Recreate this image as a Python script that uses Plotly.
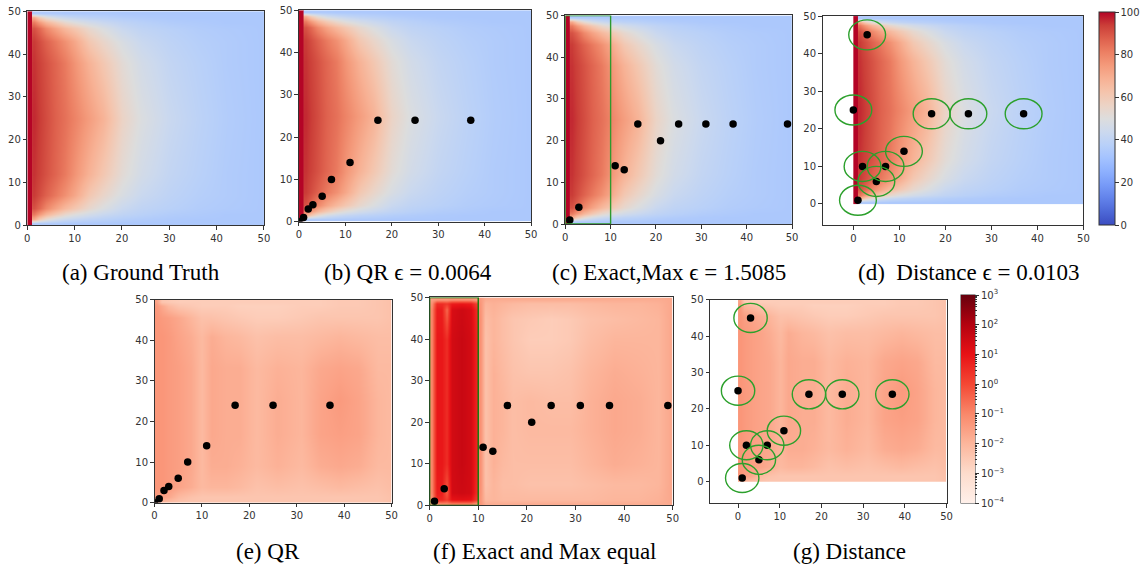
import math
import plotly.graph_objects as go

W, H = 1146, 574

# ---------------- data ----------------
axis_ticks = [0, 10, 20, 30, 40, 50]

# Temperature field (coolwarm colour scale, 0..100)
left_boundary_temp = 100          # column x in [0, 1]
field_x = [1.5, 2.5, 4, 6, 8, 10, 13, 16, 20, 24, 30, 36, 42, 49.5]
field_y = [0.5, 1.5, 2.5, 4, 7, 12, 25, 38, 43, 46, 47.5, 48.5, 49.5]
truth_temp = [
    [35, 35, 35, 35, 34.5, 34.5, 34.5, 34.5, 34, 34, 34, 34, 34, 34],
    [70, 60, 52, 46, 43, 41, 39, 38, 36.5, 35.5, 34.5, 34, 34, 34],
    [82, 75, 67, 60, 54, 50, 46, 43, 40, 38, 36, 35, 34, 34],
    [90, 86, 79, 72, 66, 61, 54, 49, 43, 40, 38, 36, 35, 34],
    [94, 91, 87, 82, 77, 71, 61, 55, 48, 43, 39.5, 37, 35.5, 34],
    [95, 93, 90, 86, 82, 76, 68, 61, 52, 46, 41, 38, 35.5, 34],
    [96, 94, 91, 87, 84, 80, 74, 68, 56, 49, 43, 39, 36, 34],
    [95, 93, 90, 86, 82, 76, 68, 61, 52, 46, 41, 38, 35.5, 34],
    [94, 91, 87, 82, 77, 71, 61, 55, 48, 43, 39.5, 37, 35.5, 34],
    [90, 86, 79, 72, 66, 61, 54, 49, 43, 40, 38, 36, 35, 34],
    [82, 75, 67, 60, 54, 50, 46, 43, 40, 38, 36, 35, 34, 34],
    [70, 60, 52, 46, 43, 41, 39, 38, 36.5, 35.5, 34.5, 34, 34, 34],
    [35, 35, 35, 35, 34.5, 34.5, 34.5, 34.5, 34, 34, 34, 34, 34, 34],
]
# the three predictions are visually indistinguishable from the truth
qr_pred_temp = truth_temp
exact_pred_temp = truth_temp
dist_pred_temp = truth_temp

# Sensor locations
qr_x = [0, 1, 2, 3, 5, 7, 11, 17, 25, 37]
qr_y = [0, 1, 3, 4, 6, 10, 14, 24, 24, 24]
exact_x = [1, 3, 11, 13, 16, 21, 25, 31, 37, 49]
exact_y = [1, 4, 14, 13, 24, 20, 24, 24, 24, 24]
dist_x = [1, 2, 5, 7, 11, 0, 3, 17, 25, 37]
dist_y = [1, 10, 6, 10, 14, 25, 45, 24, 24, 24]
dist_radius = 4
exact_region = [0, 10, 0, 50]     # x0, x1, y0, y1

# Error maps: log10(|error|), colour scale 1e-4 .. 1e3
err_x = [0.5, 1.5, 3, 5, 7.5, 10, 12, 15, 18, 21.5, 26, 31, 35, 39, 43, 47, 49.5]
err_y = [0.5, 1.5, 4, 9, 17, 25, 33, 41, 45.5, 48.5, 49.5]
qr_log_err = [
    [-1.7, -1.9, -2.1, -2.3, -2.4, -2.4, -2.4, -2.4, -2.4, -2.4, -2.4, -2.4, -2.4, -2.4, -2.4, -2.4, -2.3],
    [-1.4, -1.5, -1.7, -2.1, -2.3, -2.4, -2.4, -2.4, -2.4, -2.4, -2.4, -2.4, -2.4, -2.4, -2.4, -2.4, -2.3],
    [-1.3, -1.3, -1.4, -1.6, -1.8, -2.1, -2.0, -2.0, -2.1, -2.3, -2.2, -2.3, -2.2, -2.1, -2.2, -2.3, -2.2],
    [-1.3, -1.3, -1.4, -1.5, -1.7, -2.1, -1.8, -1.8, -1.9, -2.1, -1.9, -2.1, -1.8, -1.7, -1.8, -2.1, -2.1],
    [-1.3, -1.3, -1.4, -1.5, -1.7, -2.1, -1.7, -1.8, -1.8, -2.1, -1.8, -2.0, -1.6, -1.5, -1.6, -2.0, -2.1],
    [-1.3, -1.3, -1.4, -1.5, -1.7, -2.1, -1.7, -1.8, -1.8, -2.1, -1.8, -2.0, -1.6, -1.4, -1.6, -2.0, -2.1],
    [-1.3, -1.3, -1.4, -1.5, -1.7, -2.1, -1.7, -1.8, -1.8, -2.1, -1.9, -2.0, -1.7, -1.6, -1.7, -2.1, -2.1],
    [-1.3, -1.3, -1.4, -1.6, -1.8, -2.1, -1.8, -2.0, -2.1, -2.3, -2.2, -2.2, -2.1, -2.0, -2.1, -2.2, -2.2],
    [-1.3, -1.4, -1.5, -1.7, -2.0, -2.3, -2.3, -2.4, -2.5, -2.6, -2.6, -2.5, -2.4, -2.4, -2.4, -2.4, -2.3],
    [-1.4, -1.7, -2.1, -2.4, -2.5, -2.6, -2.6, -2.6, -2.7, -2.7, -2.7, -2.6, -2.6, -2.5, -2.5, -2.4, -2.3],
    [-1.6, -2.4, -2.5, -2.6, -2.6, -2.6, -2.6, -2.6, -2.6, -2.6, -2.6, -2.6, -2.6, -2.5, -2.5, -2.4, -2.3],
]
dist_log_err = [
    [-1.6, -1.9, -2.1, -2.3, -2.4, -2.4, -2.4, -2.4, -2.4, -2.4, -2.4, -2.4, -2.4, -2.4, -2.4, -2.4, -2.3],
    [-1.3, -1.5, -1.7, -2.1, -2.3, -2.4, -2.4, -2.4, -2.4, -2.4, -2.4, -2.4, -2.4, -2.4, -2.4, -2.4, -2.3],
    [-1.3, -1.4, -1.5, -1.6, -1.8, -2.1, -2.0, -2.0, -2.1, -2.3, -2.2, -2.3, -2.2, -2.1, -2.2, -2.3, -2.2],
    [-1.3, -1.4, -1.5, -1.6, -1.7, -2.0, -1.8, -1.8, -1.9, -2.1, -1.9, -2.1, -1.8, -1.7, -1.8, -2.1, -2.1],
    [-1.3, -1.4, -1.5, -1.6, -1.7, -2.0, -1.7, -1.8, -1.8, -2.1, -1.8, -2.0, -1.6, -1.5, -1.6, -2.0, -2.1],
    [-1.3, -1.4, -1.5, -1.6, -1.7, -2.0, -1.7, -1.8, -1.8, -2.1, -1.8, -2.0, -1.6, -1.4, -1.6, -2.0, -2.1],
    [-1.3, -1.4, -1.5, -1.6, -1.7, -2.0, -1.7, -1.8, -1.8, -2.1, -1.9, -2.0, -1.7, -1.6, -1.7, -2.1, -2.1],
    [-1.3, -1.4, -1.5, -1.6, -1.8, -2.1, -1.8, -2.0, -2.1, -2.3, -2.2, -2.2, -2.1, -2.0, -2.1, -2.2, -2.2],
    [-1.3, -1.5, -1.6, -1.8, -2.0, -2.3, -2.3, -2.4, -2.5, -2.6, -2.6, -2.5, -2.4, -2.4, -2.4, -2.4, -2.3],
    [-1.4, -2.0, -2.2, -2.4, -2.5, -2.6, -2.6, -2.6, -2.7, -2.7, -2.7, -2.6, -2.6, -2.5, -2.5, -2.4, -2.3],
    [-1.6, -2.5, -2.6, -2.6, -2.6, -2.6, -2.6, -2.6, -2.6, -2.6, -2.6, -2.6, -2.6, -2.5, -2.5, -2.4, -2.3],
]
# Exact/Max error: inside the sensor-free box x in [0, 10] and outside it
exact_in_x = [0.5, 1.5, 2.5, 3.5, 4.5, 6.5, 8.5, 9.5]
exact_in_y = [0.5, 1.5, 3, 10, 25, 40, 47, 48.5, 49.5]
exact_in_log_err = [
    [-1.5, -1.2, -1.0, -1.0, -0.8, -0.8, -0.8, -1.2],
    [-1.2, 0.6, 0.6, 0.2, 1.0, 1.1, 1.0, 0.3],
    [-1.0, 0.8, 0.8, -0.3, 1.4, 1.5, 1.4, 0.6],
    [-1.0, 0.9, 0.9, 0.5, 1.4, 1.6, 1.4, 0.7],
    [-1.0, 0.9, 0.9, 0.5, 1.4, 1.6, 1.4, 0.7],
    [-1.0, 0.9, 0.9, 0.5, 1.4, 1.6, 1.4, 0.7],
    [-1.0, 0.8, 0.8, -0.5, 1.3, 1.5, 1.3, 0.6],
    [-1.2, 0.5, 0.5, 0.3, 0.8, 0.9, 0.8, 0.2],
    [-1.5, -1.3, -1.3, -1.3, -1.2, -1.2, -1.2, -1.4],
]
exact_out_x = [10.5, 11.5, 13, 15, 17, 20.5, 25, 29, 33, 38, 43, 47, 49.5]
exact_out_y = [0.5, 1.5, 5, 10, 18, 25, 32, 40, 45, 48.5, 49.5]
exact_out_log_err = [
    [-1.3, -1.8, -1.8, -1.8, -1.8, -1.8, -1.8, -1.8, -1.8, -1.8, -1.8, -1.8, -1.7],
    [-1.3, -2.1, -2.0, -2.1, -2.1, -2.1, -2.1, -2.1, -2.1, -2.0, -2.0, -1.9, -1.7],
    [-1.2, -2.3, -2.0, -2.2, -2.2, -2.3, -2.3, -2.3, -2.2, -2.1, -2.1, -2.0, -1.7],
    [-1.2, -2.3, -1.9, -2.1, -2.2, -2.2, -2.2, -2.2, -2.0, -1.8, -1.9, -2.0, -1.7],
    [-1.2, -2.3, -1.9, -2.0, -2.2, -2.1, -2.1, -2.1, -1.9, -1.7, -1.8, -2.0, -1.7],
    [-1.2, -2.3, -1.9, -2.0, -2.2, -2.1, -2.2, -2.2, -1.9, -1.7, -1.8, -2.0, -1.7],
    [-1.2, -2.3, -1.9, -2.1, -2.3, -2.4, -2.4, -2.3, -2.0, -1.8, -1.9, -2.0, -1.7],
    [-1.2, -2.3, -2.0, -2.2, -2.4, -2.6, -2.6, -2.5, -2.2, -2.0, -2.0, -2.0, -1.7],
    [-1.2, -2.2, -2.0, -2.2, -2.4, -2.5, -2.6, -2.5, -2.3, -2.2, -2.1, -2.0, -1.7],
    [-1.3, -2.0, -1.9, -2.0, -2.1, -2.2, -2.2, -2.2, -2.1, -2.0, -2.0, -1.9, -1.7],
    [-1.4, -1.8, -1.8, -1.8, -1.8, -1.8, -1.8, -1.8, -1.8, -1.8, -1.8, -1.8, -1.7],
]
err_exponents = [-4, -3, -2, -1, 0, 1, 2, 3]

captions = [
    "(a) Ground Truth",
    "(b) QR \u03f5 = 0.0064",
    "(c) Exact,Max \u03f5 = 1.5085",
    "(d)  Distance \u03f5 = 0.0103",
    "(e) QR",
    "(f) Exact and Max equal",
    "(g) Distance",
]

# ---------------- styling / layout ----------------
coolwarm = [
    [0.0, "rgb(59,76,192)"], [0.0625, "rgb(77,104,215)"], [0.125, "rgb(98,130,234)"],
    [0.1875, "rgb(119,154,247)"], [0.25, "rgb(141,176,254)"], [0.3125, "rgb(163,194,255)"],
    [0.375, "rgb(184,208,249)"], [0.4375, "rgb(204,217,238)"], [0.5, "rgb(221,221,221)"],
    [0.5625, "rgb(236,211,197)"], [0.625, "rgb(245,196,172)"], [0.6875, "rgb(247,177,148)"],
    [0.75, "rgb(244,154,123)"], [0.8125, "rgb(236,127,99)"], [0.875, "rgb(222,96,77)"],
    [0.9375, "rgb(203,62,56)"], [1.0, "rgb(180,4,38)"],
]
reds = [
    [0 / 7, "rgb(255,240,234)"], [1 / 7, "rgb(253,220,204)"], [2 / 7, "rgb(252,182,156)"],
    [3 / 7, "rgb(249,136,106)"], [4 / 7, "rgb(244,72,52)"], [5 / 7, "rgb(232,18,22)"],
    [6 / 7, "rgb(180,2,16)"], [1.0, "rgb(103,0,13)"],
]

# pixel boxes (left, top, right, bottom)
boxes = [
    (24.5, 5.3, 263, 224),
    (298.3, 4.3, 532.3, 220.3),
    (566.7, 9.7, 795.3, 222.7),
    (826, 10.3, 1089, 223.7),
    (152.7, 300, 391.7, 507.3),
    (430, 297.7, 675, 510),
    (712.7, 300, 951, 507.7),
]
x_ranges = [[0, 50]] * 3 + [[-6.7, 50]] + [[0, 50]] * 2 + [[-6.7, 50]]
y_ranges = [[0, 50]] * 3 + [[-5.6, 50]] + [[0, 50]] * 2 + [[-5.9, 50]]
caption_pos = [(139, 272), (408, 272), (671, 272), (974, 272),
               (267, 557), (546, 557), (853, 557)]

INK = "#333333"
tick_font = dict(family="DejaVu Sans", size=10, color=INK)

fig = go.Figure()


def ax(i):
    return ("x" if i == 1 else f"x{i}"), ("y" if i == 1 else f"y{i}")


layout_axes = {}
for i, (box, xr, yr) in enumerate(zip(boxes, x_ranges, y_ranges), start=1):
    l, t, r, b = box
    xa, ya = ax(i)
    common = dict(ticks="outside", ticklen=3.5, tickwidth=1, tickcolor=INK,
                  showline=True, linecolor=INK, linewidth=1, mirror=True,
                  showgrid=False, zeroline=False, tickfont=tick_font,
                  tickvals=axis_ticks, fixedrange=True)
    layout_axes["xaxis" if i == 1 else f"xaxis{i}"] = dict(
        domain=[l / W, r / W], range=xr, anchor=ya, **common)
    layout_axes["yaxis" if i == 1 else f"yaxis{i}"] = dict(
        domain=[1 - b / H, 1 - t / H], range=yr, anchor=xa, **common)

# temperature panels a-d
temp_fields = [truth_temp, qr_pred_temp, exact_pred_temp, dist_pred_temp]
for i, field in enumerate(temp_fields, start=1):
    xa, ya = ax(i)
    fig.add_trace(go.Heatmap(
        z=[[left_boundary_temp]], x=[0, 1], y=[0, 50], xaxis=xa, yaxis=ya,
        zmin=0, zmax=100, colorscale=coolwarm, showscale=False, hoverinfo="skip"))
    hm = dict(z=field, x=field_x, y=field_y, xaxis=xa, yaxis=ya, zmin=0, zmax=100,
              colorscale=coolwarm, zsmooth="best", showscale=False, hoverinfo="skip")
    if i == 4:
        l, t, r, b = 1105, 10.3, 1120.5, 223.7
        hm["showscale"] = True
        hm["colorbar"] = dict(
            x=l / W, xanchor="left", xpad=0, y=1 - b / H, yanchor="bottom", ypad=0,
            len=b - t, lenmode="pixels", thickness=r - l, thicknessmode="pixels",
            outlinewidth=1, outlinecolor=INK, tickvals=[0, 20, 40, 60, 80, 100],
            ticks="outside", ticklen=3.5, tickcolor=INK, tickfont=tick_font)
    fig.add_trace(go.Heatmap(**hm))

# error panels e-g
err_kw = dict(zmin=err_exponents[0], zmax=err_exponents[-1], colorscale=reds,
              zsmooth="best", showscale=False, hoverinfo="skip")
fig.add_trace(go.Heatmap(z=qr_log_err, x=err_x, y=err_y, xaxis="x5", yaxis="y5", **err_kw))
fig.add_trace(go.Heatmap(z=exact_in_log_err, x=exact_in_x, y=exact_in_y,
                         xaxis="x6", yaxis="y6", **err_kw))
fig.add_trace(go.Heatmap(z=exact_out_log_err, x=exact_out_x, y=exact_out_y,
                         xaxis="x6", yaxis="y6", **err_kw))

cb_l, cb_t, cb_r, cb_b = 966, 300, 980, 507.7
cb_common = dict(x=cb_l / W, xanchor="left", xpad=0, y=1 - cb_b / H, yanchor="bottom",
                 ypad=0, len=cb_b - cb_t, lenmode="pixels", thickness=cb_r - cb_l,
                 thicknessmode="pixels", ticks="outside", tickcolor=INK)


def sup(k):
    sign = "\u2212" if k < 0 else ""
    return f"10<sup>{sign}{abs(k)}</sup>"


g_kw = dict(err_kw)
g_kw["showscale"] = True
g_kw["colorbar"] = dict(outlinewidth=1, outlinecolor=INK, tickvals=err_exponents,
                        ticktext=[sup(k) for k in err_exponents], ticklen=4,
                        tickfont=tick_font, **cb_common)
fig.add_trace(go.Heatmap(z=dist_log_err, x=err_x, y=err_y, xaxis="x7", yaxis="y7", **g_kw))

# minor ticks for the log colour bar (overlay colour bar without labels)
minor_vals = [k + math.log10(m) for k in err_exponents[:-1] for m in range(2, 10)]
fig.add_trace(go.Scatter(
    x=[25, 25], y=[25, 25], xaxis="x7", yaxis="y7", mode="markers", hoverinfo="skip",
    marker=dict(color=[err_exponents[0], err_exponents[-1]], colorscale=reds,
                cmin=err_exponents[0], cmax=err_exponents[-1], opacity=0, size=1,
                showscale=True,
                colorbar=dict(outlinewidth=0, tickvals=minor_vals, ticklen=2,
                              showticklabels=False, **cb_common)),
    showlegend=False))

# sensor dots
dot = dict(mode="markers", marker=dict(color="black", size=7.5), showlegend=False,
           hoverinfo="skip")
for i, (px, py) in zip([2, 3, 4, 5, 6, 7],
                       [(qr_x, qr_y), (exact_x, exact_y), (dist_x, dist_y),
                        (qr_x, qr_y), (exact_x, exact_y), (dist_x, dist_y)]):
    xa, ya = ax(i)
    fig.add_trace(go.Scatter(x=px, y=py, xaxis=xa, yaxis=ya, **dot))

shapes = []
# green circles for distance panels
for i in (4, 7):
    xa, ya = ax(i)
    for cx, cy in zip(dist_x, dist_y):
        shapes.append(dict(type="circle", xref=xa, yref=ya,
                           x0=cx - dist_radius, x1=cx + dist_radius,
                           y0=cy - dist_radius, y1=cy + dist_radius,
                           line=dict(color="#2ca02c", width=1.4)))
# green box for Exact/Max panels
for i, col in ((3, "#2e9a2e"), (6, "#0a7d0a")):
    xa, ya = ax(i)
    shapes.append(dict(type="rect", xref=xa, yref=ya,
                       x0=exact_region[0], x1=exact_region[1],
                       y0=exact_region[2], y1=exact_region[3],
                       line=dict(color=col, width=1.4)))

annotations = [
    dict(text=txt, x=cx / W, y=1 - cy / H, xref="paper", yref="paper",
         xanchor="center", yanchor="middle", showarrow=False,
         font=dict(family="Liberation Serif", size=23, color="black"))
    for txt, (cx, cy) in zip(captions, caption_pos)
]

fig.update_layout(
    width=W, height=H, margin=dict(l=0, r=0, t=0, b=0),
    paper_bgcolor="white", plot_bgcolor="white", showlegend=False,
    shapes=shapes, annotations=annotations, **layout_axes)

fig.write_html(
    "out.html",
    config={"displayModeBar": False, "staticPlot": True},
    post_script="document.body.style.margin='0';document.body.style.overflow='hidden';")
